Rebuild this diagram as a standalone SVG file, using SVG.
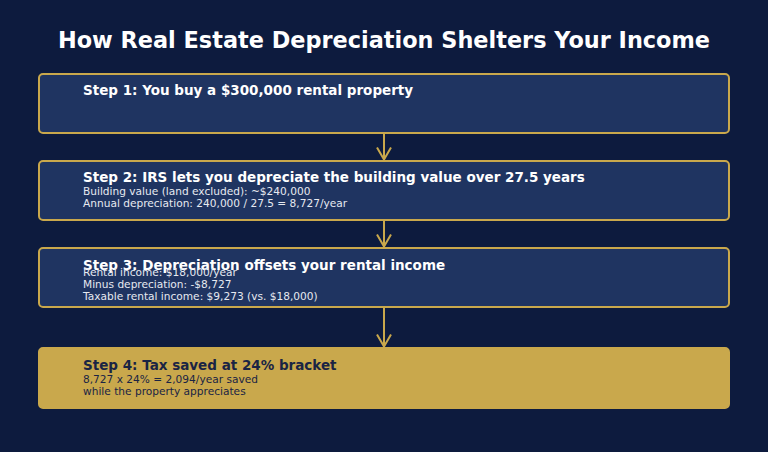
<svg xmlns="http://www.w3.org/2000/svg" width="768" height="452" viewBox="0 0 768 452">
<defs>
<style>
.box{fill:#1f3461;stroke:#c9a84c;stroke-width:2}
.gold{fill:#c9a84c;stroke:#c9a84c;stroke-width:2}
.h{font-family:"DejaVu Sans",sans-serif;font-weight:bold;font-size:13.5px;fill:#ffffff}
.s{font-family:"DejaVu Sans",sans-serif;font-size:10.6px;fill:#e6e9f0}
.hd{font-family:"DejaVu Sans",sans-serif;font-weight:bold;font-size:13.5px;fill:#1a2444}
.sd{font-family:"DejaVu Sans",sans-serif;font-size:10.6px;fill:#1a2444}
.c{stroke:#c9a84c;stroke-width:2;fill:none}
</style>
<marker id="ah" viewBox="0 0 14 16" refX="13" refY="8" markerWidth="14" markerHeight="16" markerUnits="userSpaceOnUse" orient="auto">
<path d="M1,1 L13,8 L1,15" fill="none" stroke="#c9a84c" stroke-width="2"/>
</marker>
</defs>
<rect width="768" height="452" fill="#0d1b3e"/>
<text x="384" y="48" text-anchor="middle" font-family="DejaVu Sans,sans-serif" font-weight="bold" font-size="22.4" fill="#ffffff">How Real Estate Depreciation Shelters Your Income</text>
<g id="connectors">
<path class="c" d="M384,134 V159.5" marker-end="url(#ah)"/>
<path class="c" d="M384,221 V246.5" marker-end="url(#ah)"/>
<path class="c" d="M384,308 V346.5" marker-end="url(#ah)"/>
</g>
<g id="step1">
<rect class="box" x="39" y="74" width="690" height="59" rx="4"/>
<text class="h" x="83" y="95">Step 1: You buy a $300,000 rental property</text>
</g>
<g id="step2">
<rect class="box" x="39" y="161" width="690" height="59" rx="4"/>
<text class="h" x="83" y="182">Step 2: IRS lets you depreciate the building value over 27.5 years</text>
<text class="s" x="83" y="195">Building value (land excluded): ~$240,000</text>
<text class="s" x="83" y="207">Annual depreciation: 240,000 / 27.5 = 8,727/year</text>
</g>
<g id="step3">
<rect class="box" x="39" y="248" width="690" height="59" rx="4"/>
<text class="h" x="83" y="270">Step 3: Depreciation offsets your rental income</text>
<text class="s" x="83" y="276">Rental income: $18,000/year</text>
<text class="s" x="83" y="288">Minus depreciation: -$8,727</text>
<text class="s" x="83" y="300">Taxable rental income: $9,273 (vs. $18,000)</text>
</g>
<g id="step4">
<rect class="gold" x="39" y="348" width="690" height="60" rx="4"/>
<text class="hd" x="83" y="370">Step 4: Tax saved at 24% bracket</text>
<text class="sd" x="83" y="383">8,727 x 24% = 2,094/year saved</text>
<text class="sd" x="83" y="395">while the property appreciates</text>
</g>
</svg>
